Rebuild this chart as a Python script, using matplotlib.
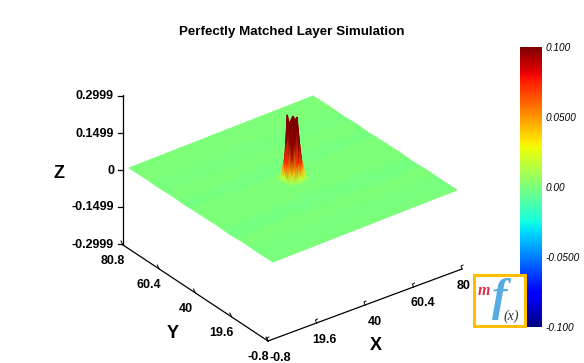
import matplotlib
matplotlib.use('Agg')
import matplotlib.pyplot as plt
from matplotlib.patches import Rectangle
from matplotlib.tri import Triangulation
import numpy as np

title = 'Perfectly Matched Layer Simulation'

# Surface grid, coarse away from the peak
x_grid = [-0.8, 8, 16, 24, 32, 35, 36, 37, 38, 39, 40, 41, 42, 43, 44, 45, 48, 56, 64, 72, 80.8]
y_grid = [-0.8, 8, 16, 24, 32, 35, 36, 37, 38, 39, 40, 41, 42, 43, 44, 45, 48, 56, 64, 72, 80.8]

# Faint level of the sheet along y
sheet_levels = [0.000, -0.001, 0.001, -0.002, 0.001, 0.000, 0.000, 0.000, 0.000, 0.000, 0.000,
                0.000, 0.000, 0.000, 0.000, 0.000, -0.002, 0.001, -0.001, 0.001, 0.000]

# Peak heights for x = 36..44 (columns), y = 36..44 (rows)
peak_x = [36, 37, 38, 39, 40, 41, 42, 43, 44]
peak_y = [36, 37, 38, 39, 40, 41, 42, 43, 44]
peak_z = [
    [0.000, 0.004, 0.010, 0.016, 0.022, 0.016, 0.010, 0.004, 0.000],
    [0.004, 0.020, 0.045, 0.065, 0.075, 0.065, 0.045, 0.020, 0.004],
    [0.010, 0.045, 0.090, 0.150, 0.200, 0.150, 0.090, 0.045, 0.010],
    [0.016, 0.065, 0.150, 0.225, 0.235, 0.252, 0.150, 0.065, 0.016],
    [0.022, 0.075, 0.200, 0.235, 0.255, 0.235, 0.200, 0.075, 0.022],
    [0.016, 0.065, 0.150, 0.225, 0.235, 0.225, 0.150, 0.065, 0.016],
    [0.010, 0.045, 0.090, 0.254, 0.200, 0.150, 0.090, 0.045, 0.010],
    [0.004, 0.020, 0.045, 0.065, 0.075, 0.065, 0.045, 0.020, 0.004],
    [0.000, 0.004, 0.010, 0.016, 0.022, 0.016, 0.010, 0.004, 0.000],
]

x_ticks = [-0.8, 19.6, 40, 60.4, 80.8]
x_tick_labels = ['-0.8', '19.6', '40', '60.4', '80']
y_ticks = [-0.8, 19.6, 40, 60.4, 80.8]
y_tick_labels = ['-0.8', '19.6', '40', '60.4', '80.8']
z_ticks = [-0.2999, -0.1499, 0, 0.1499, 0.2999]
z_tick_labels = ['-0.2999', '-0.1499', '0', '0.1499', '0.2999']
cbar_ticks = [-0.1, -0.05, 0, 0.05, 0.1]
cbar_tick_labels = ['-0.100', '-0.0500', '0.00', '0.0500', '0.100']

W, H = 584, 363
plt.rcParams['font.family'] = ['Liberation Sans', 'DejaVu Sans']


def px(size):
    return size * 0.72


def project(x, y, z):
    # oblique view worked out from the corners of the sheet, result in image pixels
    u = (np.asarray(x, dtype=float) + 0.8) / 81.6
    v = (np.asarray(y, dtype=float) + 0.8) / 81.6
    z = np.asarray(z, dtype=float)
    return 273 + 184 * u - 144 * v, 262 - 72 * u - 94 * v - 246.8 * z


fig = plt.figure(figsize=(W / 100, H / 100), dpi=100, facecolor='white')

# colour bar
cax = fig.add_axes([519.5 / W, 1 - 327 / H, 21.5 / W, 280 / H])
levels = np.linspace(-0.1, 0.1, 256)
cax.imshow(levels[:, None], cmap='jet', vmin=-0.1, vmax=0.1, origin='lower', aspect='auto',
           extent=[0, 1, -0.1, 0.1])
cax.set_xticks([])
cax.yaxis.tick_right()
cax.set_yticks(cbar_ticks)
cax.set_yticklabels(cbar_tick_labels, fontsize=px(10), style='italic')
cax.tick_params(axis='y', length=0, pad=3)
for s in cax.spines.values():
    s.set_visible(False)

# main drawing area, one unit is one image pixel
ax = fig.add_axes([0, 0, 1, 1], zorder=3)
ax.patch.set_alpha(0)
ax.axis('off')

# surface heights
Z = np.zeros((len(y_grid), len(x_grid)))
for j, level in enumerate(sheet_levels):
    Z[j, :] = level
for j, yv in enumerate(peak_y):
    for i, xv in enumerate(peak_x):
        Z[y_grid.index(yv), x_grid.index(xv)] = peak_z[j][i]

XX, YY = np.meshgrid(x_grid, y_grid)
sx, sy = project(XX.ravel(), YY.ravel(), Z.ravel())

# triangles back to front so the peak hides what is behind it
nx = len(x_grid)
tris = []
for j in range(len(y_grid) - 1):
    for i in range(nx - 1):
        a, b, c, d = j * nx + i, j * nx + i + 1, (j + 1) * nx + i + 1, (j + 1) * nx + i
        tris.append([a, b, c])
        tris.append([a, c, d])
tris = np.array(tris)
depth = (XX.ravel() + YY.ravel())[tris].mean(axis=1)
tris = tris[np.argsort(depth)[::-1]]
ax.tripcolor(Triangulation(sx, sy, tris), Z.ravel(), shading='gouraud', cmap='jet', vmin=-0.1, vmax=0.1)
ax.set_xlim(0, W)
ax.set_ylim(H, 0)

# axes of the 3D box
ox, oy = 268, 341
xe, ye = np.array([194, -72]) / 81.6, np.array([-145, -96]) / 81.6


def floor_x(v):
    return ox + xe[0] * (v + 0.8), oy + xe[1] * (v + 0.8)


def floor_y(v):
    return ox + ye[0] * (v + 0.8), oy + ye[1] * (v + 0.8)


ax.plot([floor_x(-0.8)[0], floor_x(80.8)[0]], [floor_x(-0.8)[1], floor_x(80.8)[1]], color='black', lw=0.9)
ax.plot([floor_y(-0.8)[0], floor_y(80.8)[0]], [floor_y(-0.8)[1], floor_y(80.8)[1]], color='black', lw=0.9)
ax.plot([123, 123], [95, 244], color='black', lw=0.9)

label_font = dict(fontsize=px(12.5), fontweight='bold', color='black', ha='center', va='center')
x_offsets = [(12, 17), (8, 17), (10, 17), (9, 16), (2, 17)]
for v, lab, off in zip(x_ticks, x_tick_labels, x_offsets):
    tx, ty = floor_x(v)
    ax.plot([tx, tx - 1, tx + 1], [ty, ty - 3, ty - 4], color='black', lw=0.7)
    ax.text(tx + off[0], ty + off[1], lab, **label_font)
for v, lab in zip(y_ticks, y_tick_labels):
    tx, ty = floor_y(v)
    ax.plot([tx, tx - 1, tx - 2], [ty, ty - 2, ty - 4], color='black', lw=0.7)
    ax.text(tx - 10, ty + 16, lab, **label_font)
for v, lab in zip(z_ticks, z_tick_labels):
    ty = 170 - 246.8 * v
    ax.plot([118, 123], [ty, ty], color='black', lw=0.9)
    ax.text(114, ty + 0.5, lab, fontsize=px(12.5), fontweight='bold', ha='right', va='center')

ax.text(376, 345, 'X', fontsize=px(18), fontweight='bold', ha='center', va='center')
ax.text(173, 333, 'Y', fontsize=px(18), fontweight='bold', ha='center', va='center')
ax.text(59, 174, 'Z', fontsize=px(18), fontweight='bold', ha='center', va='center')
ax.text(291.5, 32, title, fontsize=px(13.4), fontweight='bold', ha='center', va='center')

# logo box
ax.add_patch(Rectangle((473.5, 274.5), 51, 51, facecolor='white', edgecolor='#FFBE00', lw=2.2, zorder=5))
ax.text(500, 299, 'f', fontsize=px(46), family='Liberation Serif', style='italic', fontweight='bold',
        color='#55ACE0', ha='center', va='center', zorder=6)
ax.text(484, 291, 'm', fontsize=px(16), family='Liberation Serif', style='italic', fontweight='bold',
        color='#D8304A', ha='center', va='center', zorder=7)
ax.text(511, 316, '(x)', fontsize=px(14), family='Liberation Serif', style='italic', color='#333333',
        ha='center', va='center', zorder=7)

fig.savefig('out.png', dpi=100)
